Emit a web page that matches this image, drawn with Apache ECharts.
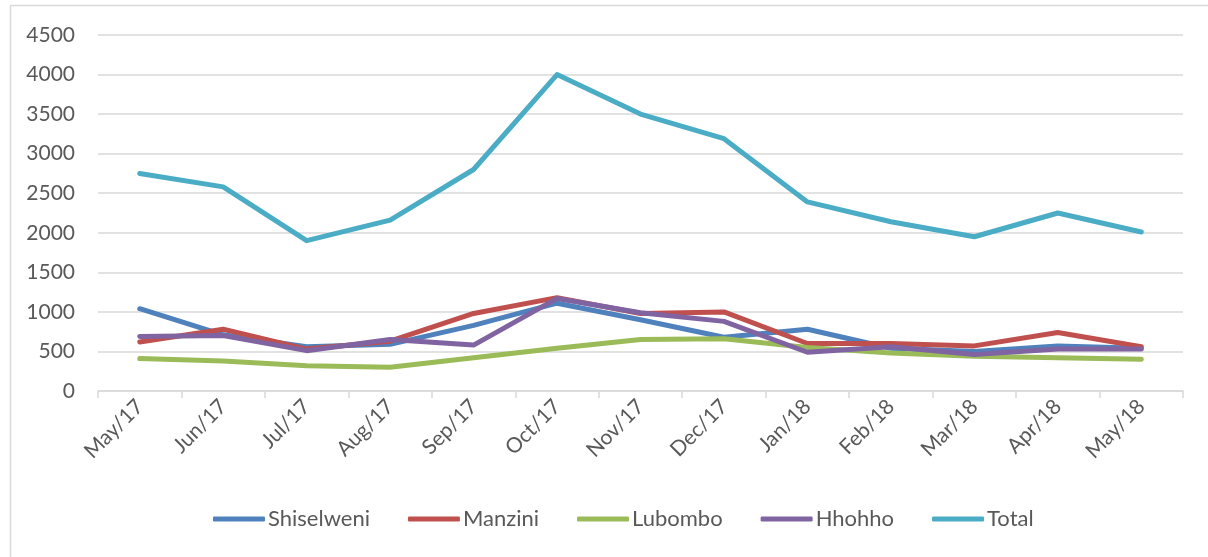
<!DOCTYPE html>
<html>
<head>
<meta charset="utf-8">
<script src="https://cdn.jsdelivr.net/npm/echarts@6/dist/echarts.min.js"></script>
<style>
  html, body { margin: 0; padding: 0; background: #fff; }
  #main { width: 1208px; height: 557px; }
</style>
</head>
<body>
<div id="main"></div>
<script>
// months on the x axis
var months = ['May/17', 'Jun/17', 'Jul/17', 'Aug/17', 'Sep/17', 'Oct/17', 'Nov/17',
              'Dec/17', 'Jan/18', 'Feb/18', 'Mar/18', 'Apr/18', 'May/18'];

// values per region
var shiselweni = [1040, 710, 560, 590, 830, 1110, 900, 680, 780, 540, 500, 570, 540];
var manzini    = [620, 780, 530, 630, 980, 1180, 980, 1000, 600, 600, 570, 740, 560];
var lubombo    = [410, 380, 320, 300, 420, 540, 650, 660, 550, 480, 440, 420, 400];
var hhohho     = [690, 700, 510, 650, 580, 1170, 990, 880, 490, 560, 460, 530, 530];
var total      = [2750, 2580, 1900, 2160, 2800, 4000, 3500, 3190, 2390, 2140, 1950, 2250, 2010];

var yTicks = [0, 500, 1000, 1500, 2000, 2500, 3000, 3500, 4000, 4500];

var fontName = 'Lato';
var txtColor = '#595959';
var gridColor = '#d9d9d9';

function lineSeries(name, data, color) {
    return {
        name: name,
        type: 'line',
        data: data,
        symbol: 'none',
        lineStyle: { width: 5, color: color, cap: 'round', join: 'round' },
        itemStyle: { color: color },
        emphasis: { disabled: true }
    };
}

var myChart = echarts.init(document.getElementById('main'));

var option = {
    animation: false,
    textStyle: { fontFamily: fontName },
    graphic: [{
        type: 'rect',
        shape: { x: 10.5, y: 5.5, width: 1220, height: 580 },
        style: { fill: 'none', stroke: gridColor, lineWidth: 1.5 },
        silent: true
    }],
    grid: { left: 98, right: 25, top: 35, bottom: 166 },
    legend: {
        bottom: 22,
        left: 208,
        icon: 'roundRect',
        itemWidth: 52,
        itemHeight: 5,
        itemGap: 38,
        textStyle: { fontFamily: fontName, fontSize: 22, color: txtColor, padding: [0, 0, 0, -2] },
        data: ['Shiselweni', 'Manzini', 'Lubombo', 'Hhohho', 'Total']
    },
    xAxis: {
        type: 'category',
        data: months,
        boundaryGap: true,
        axisLine: { lineStyle: { color: gridColor, width: 1.5 } },
        axisTick: { show: true, length: 7, lineStyle: { color: gridColor, width: 1.5 } },
        axisLabel: { rotate: 45, color: txtColor, fontSize: 21, fontFamily: fontName, margin: 12, interval: 0 }
    },
    yAxis: {
        type: 'value',
        min: yTicks[0],
        max: yTicks[yTicks.length - 1],
        interval: 500,
        axisLine: { show: false },
        axisTick: { show: false },
        axisLabel: {
            color: txtColor, fontSize: 21, fontFamily: fontName, margin: 23,
            formatter: function (v) { return String(v); }
        },
        splitLine: { lineStyle: { color: gridColor, width: 1.5 } }
    },
    series: [
        lineSeries('Shiselweni', shiselweni, '#4f81bd'),
        lineSeries('Manzini', manzini, '#c0504d'),
        lineSeries('Lubombo', lubombo, '#9bbb59'),
        lineSeries('Hhohho', hhohho, '#8064a2'),
        lineSeries('Total', total, '#4bacc6')
    ]
};

myChart.setOption(option);
</script>
</body>
</html>
